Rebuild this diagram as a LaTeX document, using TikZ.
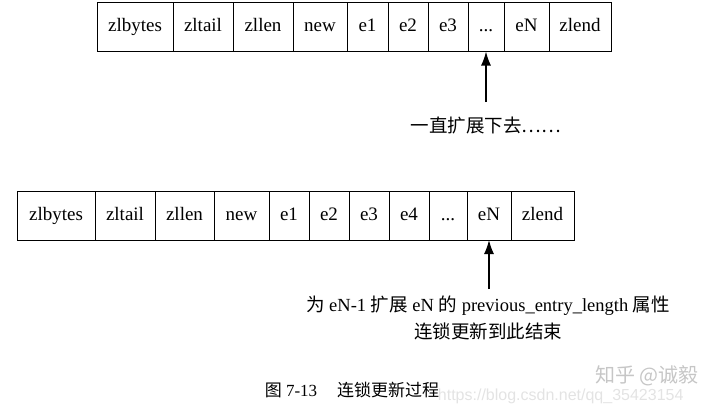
\documentclass[tikz,border=0pt]{standalone}
\usepackage{fontspec}
\setmainfont{Liberation Serif}
\newfontfamily\cjk{Noto Sans CJK SC}
\newfontfamily\urlfont{Liberation Sans}
\usepackage{tikz}
\usetikzlibrary{positioning,arrows.meta}

\tikzset{
  cell/.style={draw, line width=0.8pt, minimum height=49pt, inner sep=0pt, outer sep=0pt, text height=13pt, text depth=4pt, font=\fontsize{19}{22}\selectfont},
  arr/.style={line width=1.4pt, -{Latex[length=14pt,width=10pt]}},
  note/.style={inner sep=0pt, align=center, font=\fontsize{18.5}{27}\selectfont},
}

\begin{document}
\begin{tikzpicture}[x=1pt, y=1pt]
\useasboundingbox (0,0) rectangle (720,-407);

\node [cell, minimum width=76pt, anchor=west] (a1) at (97,-27) {zlbytes};
\node [cell, minimum width=60pt, right=0pt of a1] (a2) {zltail};
\node [cell, minimum width=60pt, right=0pt of a2] (a3) {zllen};
\node [cell, minimum width=54pt, right=0pt of a3] (a4) {new};
\node [cell, minimum width=41pt, right=0pt of a4] (a5) {e1};
\node [cell, minimum width=40pt, right=0pt of a5] (a6) {e2};
\node [cell, minimum width=40pt, right=0pt of a6] (a7) {e3};
\node [cell, minimum width=36pt, right=0pt of a7] (a8) {...};
\node [cell, minimum width=45pt, right=0pt of a8] (a9) {eN};
\node [cell, minimum width=62pt, right=0pt of a9] (a10) {zlend};

\node [note] (note1) at (486,-126) {\cjk 一直扩展下去……};
\coordinate (tail1) at (a8.south |- 0,-102);
\draw [arr] (tail1) -- (a8.south);

\node [cell, minimum width=78pt, anchor=west] (b1) at (17,-215.5) {zlbytes};
\node [cell, minimum width=60pt, right=0pt of b1] (b2) {zltail};
\node [cell, minimum width=59pt, right=0pt of b2] (b3) {zllen};
\node [cell, minimum width=55pt, right=0pt of b3] (b4) {new};
\node [cell, minimum width=40pt, right=0pt of b4] (b5) {e1};
\node [cell, minimum width=40pt, right=0pt of b5] (b6) {e2};
\node [cell, minimum width=40pt, right=0pt of b6] (b7) {e3};
\node [cell, minimum width=40pt, right=0pt of b7] (b8) {e4};
\node [cell, minimum width=38pt, right=0pt of b8] (b9) {...};
\node [cell, minimum width=44pt, right=0pt of b9] (b10) {eN};
\node [cell, minimum width=63pt, right=0pt of b10] (b11) {zlend};

\node [note, anchor=north] (note2) at (488,-296) {{\cjk 为} eN-1 {\cjk 扩展} eN {\cjk 的} previous\_entry\_length {\cjk 属性}\\{\cjk 连锁更新到此结束}};
\coordinate (tail2) at (b10.south |- 0,-289);
\draw [arr] (tail2) -- (b10.south);

\node [text=gray!22, font=\fontsize{16}{18}\selectfont\urlfont, anchor=east] (url) at (687,-396) {https://blog.csdn.net/qq\_35423154};
\node [font=\fontsize{17}{20}\selectfont] (caption) at (352,-390) {{\cjk 图} 7-13\hspace{20pt}{\cjk 连锁更新过程}};
\node [text=gray!45, font=\fontsize{20}{24}\selectfont\cjk, anchor=east] (mark) at (702,-376) {知乎 @诚毅};
\end{tikzpicture}
\end{document}
